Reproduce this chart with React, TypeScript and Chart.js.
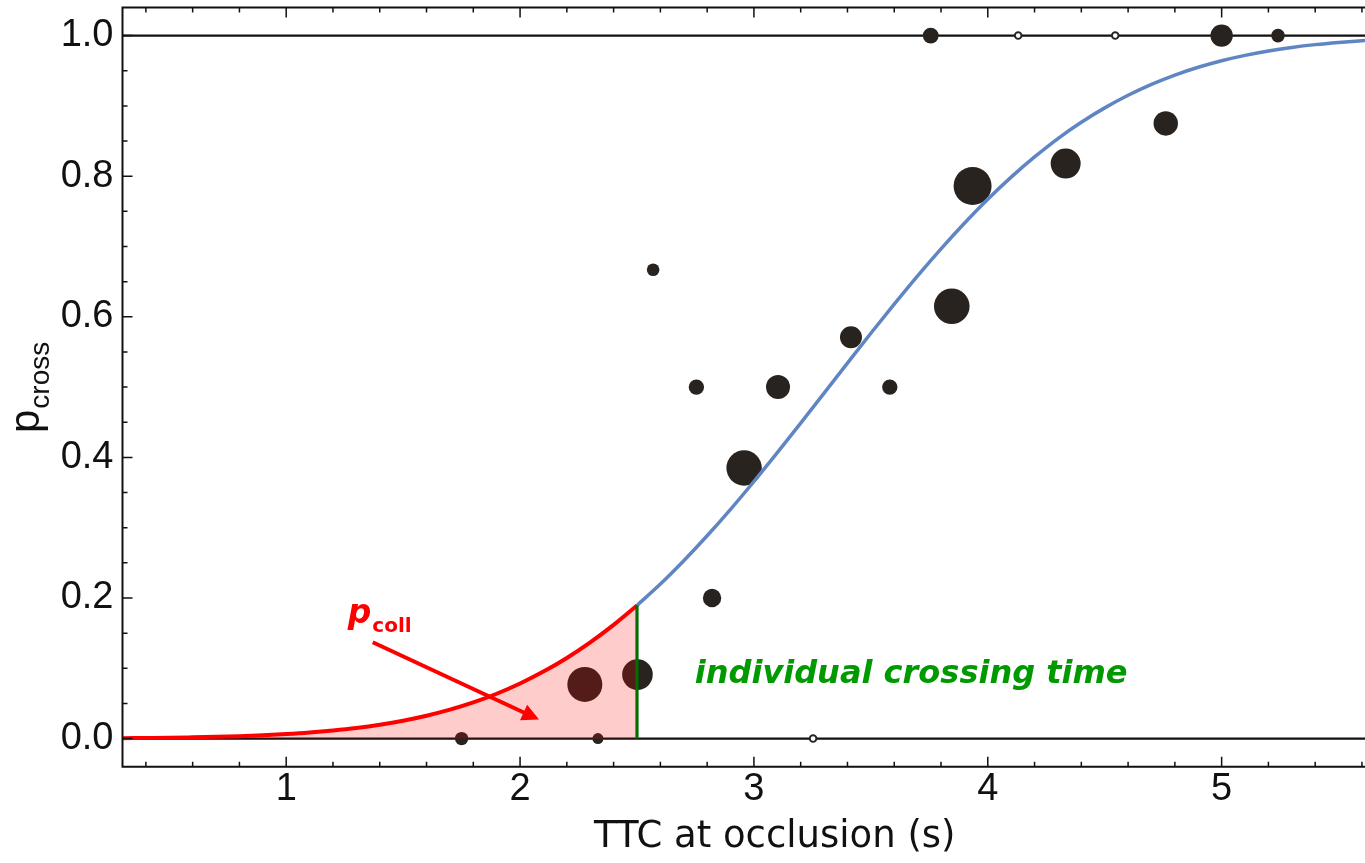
import React, { useEffect, useRef } from "react";
import { Chart, registerables } from "chart.js";

Chart.register(...registerables);

// ---- data ----
const collX = [0.3, 0.4, 0.5, 0.6, 0.7, 0.8, 0.9, 1.0, 1.1, 1.2, 1.3, 1.4, 1.5, 1.6, 1.7, 1.8, 1.9, 2.0, 2.1, 2.2, 2.3, 2.4, 2.5];
const collY = [0.0006, 0.0009, 0.0012, 0.0018, 0.0025, 0.0034, 0.0047, 0.0064, 0.0086, 0.0115, 0.0151, 0.0197, 0.0254, 0.0325, 0.0411, 0.0514, 0.0638, 0.0784, 0.0953, 0.1147, 0.1369, 0.1618, 0.1894];

const crossX = [2.5, 2.6, 2.7, 2.8, 2.9, 3.0, 3.1, 3.2, 3.3, 3.4, 3.5, 3.6, 3.7, 3.8, 3.9, 4.0, 4.1, 4.2, 4.3, 4.4, 4.5, 4.6, 4.7, 4.8, 4.9, 5.0, 5.1, 5.2, 5.3, 5.4, 5.5, 5.6, 5.7];
const crossY = [0.1894, 0.2198, 0.253, 0.2885, 0.3261, 0.3657, 0.4067, 0.4488, 0.4915, 0.5342, 0.5766, 0.618, 0.6583, 0.6967, 0.7331, 0.7673, 0.7987, 0.8274, 0.8536, 0.8767, 0.8972, 0.9152, 0.9307, 0.9439, 0.955, 0.9643, 0.9719, 0.9782, 0.9832, 0.9872, 0.9903, 0.9928, 0.9947];

const obsX = [1.75, 2.277, 2.333, 2.502, 2.569, 2.754, 2.821, 2.958, 3.103, 3.415, 3.581, 3.756, 3.846, 3.935, 4.333, 4.761, 5.0, 5.241];
const obsY = [0.0, 0.077, 0.0, 0.091, 0.667, 0.5, 0.2, 0.385, 0.5, 0.571, 0.5, 1.0, 0.615, 0.786, 0.818, 0.875, 1.0, 1.0];
const obsR = [6.7, 17.5, 5.5, 15.3, 6.3, 7.7, 9.2, 17.7, 12, 11, 7.7, 7.9, 17.8, 19, 15, 12.2, 11.2, 6.8];

const hollowX = [3.253, 4.13, 4.545];
const hollowY = [0.0, 1.0, 1.0];
const hollowR = [3.3, 3.3, 3.3];

const xTickValues = [1, 2, 3, 4, 5];
const yTickValues = [0, 0.2, 0.4, 0.6, 0.8, 1.0];
const crossingTime = 2.5;

const X_MIN = 0.3;
const X_MAX = 5.613;
const Y_MIN = -0.04;
const Y_MAX = 1.04;

const decorPlugin = {
  id: "decor",
  beforeDatasetsDraw(chart: any) {
    const { ctx, chartArea, scales } = chart;
    const ys = scales.y;
    ctx.save();
    ctx.strokeStyle = "#111";
    ctx.lineWidth = 2.2;
    [0, 1].forEach((v) => {
      const py = ys.getPixelForValue(v);
      ctx.beginPath();
      ctx.moveTo(chartArea.left, py);
      ctx.lineTo(chartArea.right, py);
      ctx.stroke();
    });
    ctx.restore();
  },
  afterDatasetsDraw(chart: any) {
    const { ctx, chartArea, scales } = chart;
    const xs = scales.x;
    const ys = scales.y;
    const L = chartArea.left, R = chartArea.right, T = chartArea.top, B = chartArea.bottom;
    ctx.save();

    // green vertical line at crossing time
    ctx.strokeStyle = "#006e00";
    ctx.lineWidth = 3.2;
    ctx.beginPath();
    const gx = xs.getPixelForValue(crossingTime);
    ctx.moveTo(gx, ys.getPixelForValue(0));
    ctx.lineTo(gx, ys.getPixelForValue(collY[collY.length - 1]));
    ctx.stroke();

    // frame
    ctx.strokeStyle = "#111";
    ctx.lineWidth = 2;
    ctx.beginPath();
    ctx.moveTo(R + 2, T);
    ctx.lineTo(L, T);
    ctx.lineTo(L, B);
    ctx.lineTo(R + 2, B);
    ctx.stroke();

    // ticks
    ctx.lineWidth = 1.5;
    ctx.beginPath();
    for (let i = 2; i <= 28; i++) {
      const v = i * 0.2;
      if (v < X_MIN - 1e-9 || v > X_MAX + 1e-9) continue;
      const major = i % 5 === 0;
      const len = major ? 10 : 5;
      const px = xs.getPixelForValue(v);
      ctx.moveTo(px, B);
      ctx.lineTo(px, B - len);
      ctx.moveTo(px, T);
      ctx.lineTo(px, T + len);
    }
    for (let i = 0; i <= 20; i++) {
      const v = i * 0.05;
      const major = i % 4 === 0;
      const len = major ? 10 : 5;
      const py = ys.getPixelForValue(v);
      ctx.moveTo(L, py);
      ctx.lineTo(L + len, py);
    }
    ctx.stroke();

    // arrow for p_coll
    const ax0 = xs.getPixelForValue(1.37), ay0 = ys.getPixelForValue(0.137);
    const ax1 = xs.getPixelForValue(2.081), ay1 = ys.getPixelForValue(0.027);
    const dx = ax1 - ax0, dy = ay1 - ay0;
    const d = Math.hypot(dx, dy);
    const ux = dx / d, uy = dy / d;
    const hl = 17, hw = 8.5;
    const bx = ax1 - ux * hl, by = ay1 - uy * hl;
    ctx.strokeStyle = "#ff0000";
    ctx.fillStyle = "#ff0000";
    ctx.lineWidth = 4;
    ctx.beginPath();
    ctx.moveTo(ax0, ay0);
    ctx.lineTo(bx + ux * 2, by + uy * 2);
    ctx.stroke();
    ctx.beginPath();
    ctx.moveTo(ax1, ay1);
    ctx.lineTo(bx - uy * hw, by + ux * hw);
    ctx.lineTo(bx + uy * hw, by - ux * hw);
    ctx.closePath();
    ctx.fill();

    // p_coll label
    const px0 = xs.getPixelForValue(1.263), py0 = ys.getPixelForValue(0.164);
    ctx.textBaseline = "alphabetic";
    ctx.textAlign = "left";
    ctx.font = "italic bold 33px 'DejaVu Sans'";
    ctx.fillText("p", px0, py0);
    const pw = ctx.measureText("p").width;
    ctx.font = "bold 20px 'DejaVu Sans'";
    ctx.fillText("coll", px0 + pw + 1, py0 + 9);

    // individual crossing time
    ctx.fillStyle = "#009a00";
    ctx.font = "italic bold 32px 'DejaVu Sans'";
    ctx.fillText("individual crossing time", xs.getPixelForValue(2.747), ys.getPixelForValue(0.0797));

    ctx.restore();
  },
  afterDraw(chart: any) {
    const { ctx } = chart;
    ctx.save();
    // x title
    ctx.fillStyle = "#111";
    ctx.font = "37px 'DejaVu Sans'";
    ctx.textAlign = "left";
    ctx.textBaseline = "alphabetic";
    ctx.fillText("TTC at occlusion (s)", 594, 847);

    // y title p_cross (rotated)
    ctx.translate(39, 433);
    ctx.rotate(-Math.PI / 2);
    ctx.font = "42px 'Liberation Sans'";
    ctx.fillText("p", 0, 0);
    const w = ctx.measureText("p").width;
    ctx.font = "28px 'Liberation Sans'";
    ctx.fillText("cross", w + 1, 10);
    ctx.restore();
  },
};

export default function App() {
  const canvasRef = useRef<HTMLCanvasElement | null>(null);

  useEffect(() => {
    document.body.style.margin = "0";
    const canvas = canvasRef.current;
    if (!canvas) return;

    const chart = new Chart(canvas, {
      type: "scatter",
      data: {
        datasets: [
          {
            type: "line",
            label: "p_coll",
            data: collX.map((x, i) => ({ x, y: collY[i] })),
            borderColor: "#ff0000",
            borderWidth: 4,
            pointRadius: 0,
            fill: { value: 0 },
            backgroundColor: "rgba(255,0,0,0.2)",
            cubicInterpolationMode: "monotone",
            order: 0,
          } as any,
          {
            type: "line",
            label: "p_cross",
            data: crossX.map((x, i) => ({ x, y: crossY[i] })),
            borderColor: "#5f86c2",
            borderWidth: 3.5,
            pointRadius: 0,
            fill: false,
            cubicInterpolationMode: "monotone",
            order: 1,
          } as any,
          {
            type: "bubble",
            label: "observed",
            data: obsX.map((x, i) => ({ x, y: obsY[i], r: obsR[i] })),
            backgroundColor: "#29231f",
            borderWidth: 0,
            clip: false,
            order: 2,
          } as any,
          {
            type: "bubble",
            label: "observed-small",
            data: hollowX.map((x, i) => ({ x, y: hollowY[i], r: hollowR[i] })),
            backgroundColor: "#ffffff",
            borderColor: "#29231f",
            borderWidth: 1.9,
            clip: false,
            order: 2,
          } as any,
        ],
      },
      options: {
        animation: false,
        responsive: false,
        events: [],
        layout: { autoPadding: false, padding: { top: 7.5, right: 0, left: 0, bottom: 0 } },
        plugins: {
          legend: { display: false },
          tooltip: { enabled: false },
        },
        scales: {
          x: {
            type: "linear",
            position: "bottom",
            min: X_MIN,
            max: X_MAX,
            grid: { display: false, drawTicks: false },
            border: { display: false },
            afterBuildTicks: (s: any) => {
              s.ticks = xTickValues.map((v) => ({ value: v }));
            },
            afterFit: (s: any) => {
              s.height = 96.3;
              s.paddingLeft = 0;
              s.paddingRight = 0;
              s.paddingTop = 0;
              s.paddingBottom = 0;
            },
            ticks: {
              font: { family: "'Liberation Sans'", size: 38 },
              color: "#111",
              padding: 0,
              maxRotation: 0,
              autoSkip: false,
              callback: (v: any) => String(v),
            },
          },
          y: {
            type: "linear",
            position: "left",
            min: Y_MIN,
            max: Y_MAX,
            grid: { display: false, drawTicks: false },
            border: { display: false },
            afterBuildTicks: (s: any) => {
              s.ticks = yTickValues.map((v) => ({ value: v }));
            },
            afterFit: (s: any) => {
              s.width = 122.5;
              s.paddingLeft = 0;
              s.paddingRight = 0;
              s.paddingTop = 0;
              s.paddingBottom = 0;
            },
            ticks: {
              font: { family: "'Liberation Sans'", size: 38 },
              color: "#111",
              padding: 9,
              autoSkip: false,
              callback: (v: any) => Number(v).toFixed(1),
            },
          },
        },
      },
      plugins: [decorPlugin],
    });

    return () => chart.destroy();
  }, []);

  return (
    <div style={{ width: 1365, height: 863, position: "relative" }}>
      <canvas ref={canvasRef} width={1365} height={863} style={{ display: "block" }} />
    </div>
  );
}
